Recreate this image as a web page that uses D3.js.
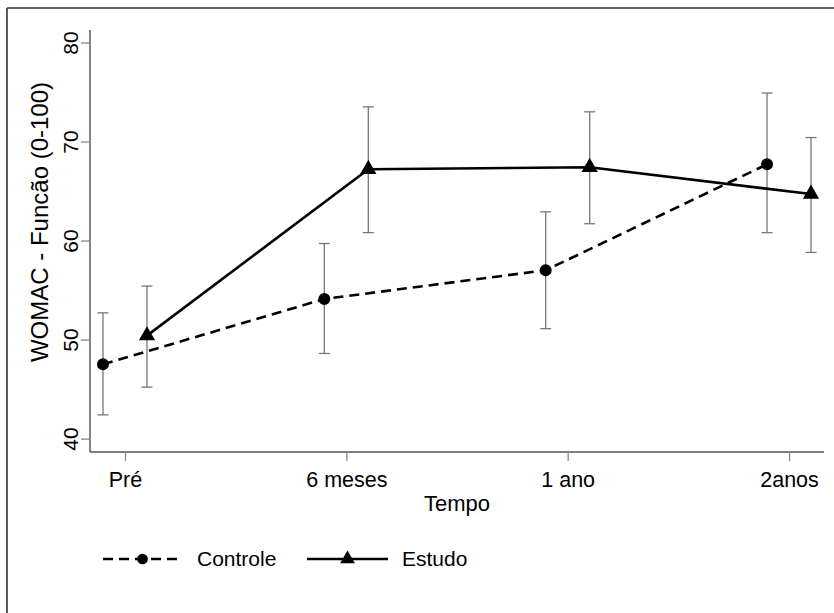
<!DOCTYPE html>
<html>
<head>
<meta charset="utf-8">
<script src="https://cdn.jsdelivr.net/npm/d3@7"></script>
<style>
  html, body { margin: 0; padding: 0; background: #fff; }
  svg { display: block; font-family: "Liberation Sans", Arial, sans-serif; }
</style>
</head>
<body>
<svg id="chart" width="834" height="613"></svg>
<script>
// Time points
const categories = ["Pré", "6 meses", "1 ano", "2anos"];

// WOMAC function score (0-100): mean with confidence interval
const controleMean = [47.5, 54.1, 57.0, 67.7];
const controleLow  = [42.4, 48.6, 51.1, 60.8];
const controleHigh = [52.7, 59.7, 62.9, 74.9];

const estudoMean = [50.4, 67.2, 67.4, 64.7];
const estudoLow  = [45.2, 60.8, 61.7, 58.8];
const estudoHigh = [55.4, 73.5, 73.0, 70.4];

const yTicks = [40, 50, 60, 70, 80];

const svg = d3.select("#chart");

// Plot region
const plotLeft = 90, plotRight = 824, plotTop = 30, plotBottom = 452;

const x = d3.scalePoint().domain(categories).range([plotLeft, plotRight]).padding(0.158);
const y = d3.scaleLinear().domain([38.65, 81.26]).range([plotBottom, plotTop]);

// Horizontal offset so the two groups do not overlap
const offset = 22;

// Outer frame (left and top edges)
svg.append("line").attr("x1", 7).attr("x2", 7).attr("y1", 8).attr("y2", 613)
  .attr("stroke", "#333").attr("stroke-width", 1.6);
svg.append("line").attr("x1", 7).attr("x2", 834).attr("y1", 8).attr("y2", 8)
  .attr("stroke", "#333").attr("stroke-width", 1.6);

// Y axis
const yAxis = svg.append("g").attr("transform", `translate(${plotLeft},0)`)
  .call(d3.axisLeft(y).tickValues(yTicks).tickSize(9).tickFormat(d3.format("d")));
yAxis.select(".domain").attr("d", `M0,${plotTop}V${plotBottom}`).attr("stroke", "#444").attr("stroke-width", 1.3);
yAxis.selectAll(".tick line").attr("stroke", "#888").attr("stroke-width", 1.3);
yAxis.selectAll(".tick text")
  .attr("transform", "rotate(-90)")
  .attr("x", 0).attr("y", -12)
  .attr("dy", 0)
  .attr("text-anchor", "middle")
  .attr("font-size", 21).attr("fill", "#000");

// X axis
const xAxis = svg.append("g").attr("transform", `translate(0,${plotBottom})`)
  .call(d3.axisBottom(x).tickSize(9));
xAxis.select(".domain").attr("d", `M${plotLeft},0H${plotRight}`).attr("stroke", "#555").attr("stroke-width", 1.3);
xAxis.selectAll(".tick line").attr("stroke", "#888").attr("stroke-width", 1.3);
xAxis.selectAll(".tick text")
  .attr("y", 35).attr("dy", 0)
  .attr("font-size", 21.5).attr("fill", "#000");

// Axis titles
svg.append("text")
  .attr("x", (plotLeft + plotRight) / 2).attr("y", 511)
  .attr("text-anchor", "middle").attr("font-size", 22).attr("fill", "#000")
  .text("Tempo");
svg.append("text")
  .attr("transform", `translate(48,222) rotate(-90)`)
  .attr("text-anchor", "middle").attr("font-size", 24).attr("fill", "#000")
  .text("WOMAC - Funcão (0-100)");

const series = [
  { name: "Controle", mean: controleMean, low: controleLow, high: controleHigh, dx: -offset, dash: "10,6", symbol: d3.symbolCircle, size: 113 },
  { name: "Estudo", mean: estudoMean, low: estudoLow, high: estudoHigh, dx: offset, dash: null, symbol: d3.symbolTriangle, size: 115 }
];

const cap = 5.5;

series.forEach(s => {
  const g = svg.append("g");
  // Error bars
  categories.forEach((c, i) => {
    const cx = x(c) + s.dx;
    g.append("line").attr("x1", cx).attr("x2", cx).attr("y1", y(s.low[i])).attr("y2", y(s.high[i]))
      .attr("stroke", "#777").attr("stroke-width", 1.3);
    [s.low[i], s.high[i]].forEach(v => {
      g.append("line").attr("x1", cx - cap).attr("x2", cx + cap).attr("y1", y(v)).attr("y2", y(v))
        .attr("stroke", "#777").attr("stroke-width", 1.3);
    });
  });
});

series.forEach(s => {
  const line = d3.line().x((d, i) => x(categories[i]) + s.dx).y(d => y(d));
  svg.append("path").datum(s.mean).attr("d", line)
    .attr("fill", "none").attr("stroke", "#000").attr("stroke-width", 2.6)
    .attr("stroke-dasharray", s.dash);
  svg.selectAll(null).data(s.mean).enter().append("path")
    .attr("d", d3.symbol().type(s.symbol).size(s.size))
    .attr("transform", (d, i) => `translate(${x(categories[i]) + s.dx},${y(d)})`)
    .attr("fill", "#000");
});

// Legend
const legendY = 559;
const legend = [
  { name: "Controle", x0: 103, x1: 182, dash: "10,6", symbol: d3.symbolCircle, size: 90, tx: 197 },
  { name: "Estudo", x0: 307, x1: 388, dash: null, symbol: d3.symbolTriangle, size: 95, tx: 402 }
];
legend.forEach(l => {
  svg.append("line").attr("x1", l.x0).attr("x2", l.x1).attr("y1", legendY).attr("y2", legendY)
    .attr("stroke", "#000").attr("stroke-width", 2.4).attr("stroke-dasharray", l.dash);
  svg.append("path").attr("d", d3.symbol().type(l.symbol).size(l.size))
    .attr("transform", `translate(${(l.x0 + l.x1) / 2},${legendY})`).attr("fill", "#000");
  svg.append("text").attr("x", l.tx).attr("y", legendY + 7).attr("font-size", 21).attr("fill", "#000")
    .text(l.name);
});
</script>
</body>
</html>
